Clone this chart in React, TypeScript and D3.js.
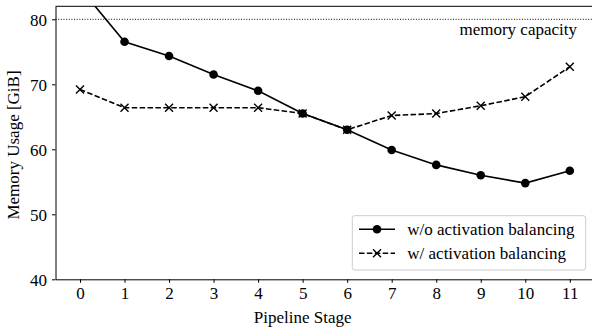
import { useEffect, useRef } from "react";
import * as d3 from "d3";

const stages = [0, 1, 2, 3, 4, 5, 6, 7, 8, 9, 10, 11];
const withoutBalancing = [84.8, 76.55, 74.35, 71.5, 69.0, 65.5, 63.0, 59.9, 57.6, 56.0, 54.8, 56.7];
const withBalancing = [69.2, 66.4, 66.4, 66.4, 66.4, 65.5, 63.0, 65.2, 65.5, 66.7, 68.1, 72.7];
const yTicks = [40, 50, 60, 70, 80];
const memoryCapacity = 80;
const seriesLabels = ["w/o activation balancing", "w/ activation balancing"];

const width = 592;
const height = 328;
const margin = { top: 6.3, right: -2.3, bottom: 48.7, left: 55.5 };
const font = "'Liberation Serif', 'DejaVu Serif', serif";
const fontSize = 17;

export default function App() {
  const svgRef = useRef<SVGSVGElement>(null);

  useEffect(() => {
    if (!svgRef.current) return;
    const svg = d3.select(svgRef.current).attr("width", width).attr("height", height);
    svg.selectAll("*").remove();

    const innerWidth = width - margin.left - margin.right;
    const innerHeight = height - margin.top - margin.bottom;

    const x = d3.scaleLinear().domain([-0.55, 11.55]).range([0, innerWidth]);
    const y = d3.scaleLinear().domain([40, 82]).range([innerHeight, 0]);

    const g = svg
      .append("g")
      .attr("transform", `translate(${margin.left},${margin.top})`);

    svg
      .append("defs")
      .append("clipPath")
      .attr("id", "plot-clip")
      .append("rect")
      .attr("width", innerWidth)
      .attr("height", innerHeight);

    // memory capacity line
    g.append("line")
      .attr("x1", 0)
      .attr("x2", innerWidth)
      .attr("y1", y(memoryCapacity))
      .attr("y2", y(memoryCapacity))
      .attr("stroke", "#000")
      .attr("stroke-width", 1)
      .attr("stroke-dasharray", "1,1.65");

    g.append("text")
      .attr("x", 577 - margin.left)
      .attr("y", 35 - margin.top)
      .attr("text-anchor", "end")
      .attr("font-family", font)
      .attr("font-size", fontSize)
      .text("memory capacity");

    const plot = g.append("g").attr("clip-path", "url(#plot-clip)");

    const line = d3
      .line<number>()
      .x((_, i) => x(stages[i]))
      .y((d) => y(d));

    // w/o balancing
    plot
      .append("path")
      .datum(withoutBalancing)
      .attr("fill", "none")
      .attr("stroke", "#000")
      .attr("stroke-width", 1.6)
      .attr("d", line);
    plot
      .selectAll(".dot")
      .data(withoutBalancing)
      .join("circle")
      .attr("cx", (_, i) => x(stages[i]))
      .attr("cy", (d) => y(d))
      .attr("r", 4.3)
      .attr("fill", "#000");

    // w/ balancing
    plot
      .append("path")
      .datum(withBalancing)
      .attr("fill", "none")
      .attr("stroke", "#000")
      .attr("stroke-width", 1.6)
      .attr("stroke-dasharray", "5.5,2.4")
      .attr("d", line);
    const cross = (cx: number, cy: number, s: number) =>
      `M${cx - s},${cy - s}L${cx + s},${cy + s}M${cx - s},${cy + s}L${cx + s},${cy - s}`;
    plot
      .selectAll(".cross")
      .data(withBalancing)
      .join("path")
      .attr("d", (d, i) => cross(x(stages[i]), y(d), 4))
      .attr("stroke", "#000")
      .attr("stroke-width", 1.4)
      .attr("fill", "none");

    // top spine
    g.append("line")
      .attr("x1", 0).attr("x2", innerWidth).attr("y1", 0).attr("y2", 0)
      .attr("stroke", "#000").attr("stroke-width", 1);

    const xAxis = g
      .append("g")
      .attr("transform", `translate(0,${innerHeight})`)
      .call(d3.axisBottom(x).tickValues(stages).tickSize(3.5).tickSizeOuter(0).tickPadding(4));
    const yAxis = g
      .append("g")
      .call(d3.axisLeft(y).tickValues(yTicks).tickSize(3.5).tickSizeOuter(0).tickPadding(5));
    [xAxis, yAxis].forEach((a) => {
      a.selectAll("text").attr("font-family", font).attr("font-size", fontSize).attr("fill", "#000");
      a.selectAll("line").attr("stroke", "#000").attr("stroke-width", 1);
      a.select(".domain").attr("stroke", "#000").attr("stroke-width", 1);
    });
    yAxis.selectAll("text").attr("dy", "0.34em");

    // axis labels
    svg
      .append("text")
      .attr("x", margin.left + x(5))
      .attr("y", 323)
      .attr("text-anchor", "middle")
      .attr("font-family", font)
      .attr("font-size", fontSize)
      .text("Pipeline Stage");
    svg
      .append("text")
      .attr("transform", `translate(18.5,145) rotate(-90)`)
      .attr("text-anchor", "middle")
      .attr("font-family", font)
      .attr("font-size", fontSize)
      .text("Memory Usage [GiB]");

    // legend
    const legend = svg.append("g").attr("transform", "translate(352.3,215.7)");
    legend
      .append("rect")
      .attr("width", 233.4)
      .attr("height", 54.3)
      .attr("rx", 2.5)
      .attr("fill", "#fff")
      .attr("fill-opacity", 0.8)
      .attr("stroke", "#ccc")
      .attr("stroke-width", 1);
    seriesLabels.forEach((label, i) => {
      const row = legend.append("g").attr("transform", `translate(0,${13.6 + i * 24})`);
      row
        .append("line")
        .attr("x1", 6.7)
        .attr("x2", 42.7)
        .attr("stroke", "#000")
        .attr("stroke-width", 1.6)
        .attr("stroke-dasharray", i === 0 ? null : "5.5,2.4");
      if (i === 0) {
        row.append("circle").attr("cx", 24.7).attr("r", 4.3).attr("fill", "#000");
      } else {
        row
          .append("path")
          .attr("d", cross(24.7, 0, 4))
          .attr("stroke", "#000")
          .attr("stroke-width", 1.4);
      }
      row
        .append("text")
        .attr("x", 55)
        .attr("dy", "0.35em")
        .attr("font-family", font)
        .attr("font-size", fontSize)
        .text(label);
    });
  }, []);

  return (
    <svg
      ref={svgRef}
      style={{ position: "absolute", left: 0, top: 0, background: "#fff" }}
    />
  );
}
